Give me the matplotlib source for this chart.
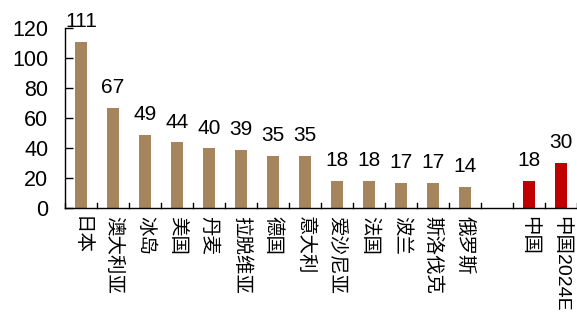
import matplotlib
matplotlib.use('Agg')
import matplotlib.pyplot as plt
import numpy as np

plt.rcParams['font.family'] = ['Liberation Sans', 'Noto Sans CJK SC', 'DejaVu Sans']

# per-country values; empty string marks the spacer slot
countries = ['日本', '澳大利亚', '冰岛', '美国', '丹麦', '拉脱维亚', '德国', '意大利',
             '爱沙尼亚', '法国', '波兰', '斯洛伐克', '俄罗斯', '', '中国', '中国2024E']
values = [111, 67, 49, 44, 40, 39, 35, 35, 18, 18, 17, 17, 14, None, 18, 30]
highlight = ['中国', '中国2024E']

brown = '#A6845C'
red = '#C00000'

fig = plt.figure(figsize=(5.77, 3.23), dpi=100)
ax = fig.add_axes([65/577, 1 - 208/323, 1 - 65/577, 180/323])

x = np.arange(len(countries))
for i, (c, v) in enumerate(zip(countries, values)):
    if v is None:
        continue
    col = red if c in highlight else brown
    ax.bar(i, v, width=0.36, color=col, zorder=2)
    ax.text(i, v + 7, str(v), ha='center', va='bottom', fontsize=15, clip_on=False)

ax.set_xlim(-0.5, len(countries) - 0.5)
ax.set_ylim(0, 120)
ax.set_yticks(np.arange(0, 121, 20))
ax.tick_params(axis='y', direction='in', length=6, width=1, labelsize=15.5, pad=12)

# category names hang below the axis, boundary ticks pointing up
ax.set_xticks(x)
ax.set_xticklabels(countries, rotation=270, fontsize=14, va='top', ha='center')
ax.tick_params(axis='x', length=0, pad=6)
for b in np.arange(-0.5, len(countries), 1.0):
    ax.plot([b, b], [0, 3.5], color='black', lw=1, clip_on=False, zorder=3)

for s in ['top', 'right']:
    ax.spines[s].set_visible(False)
ax.spines['left'].set_linewidth(1)
ax.spines['bottom'].set_linewidth(1)

fig.savefig('out.png', dpi=100)
